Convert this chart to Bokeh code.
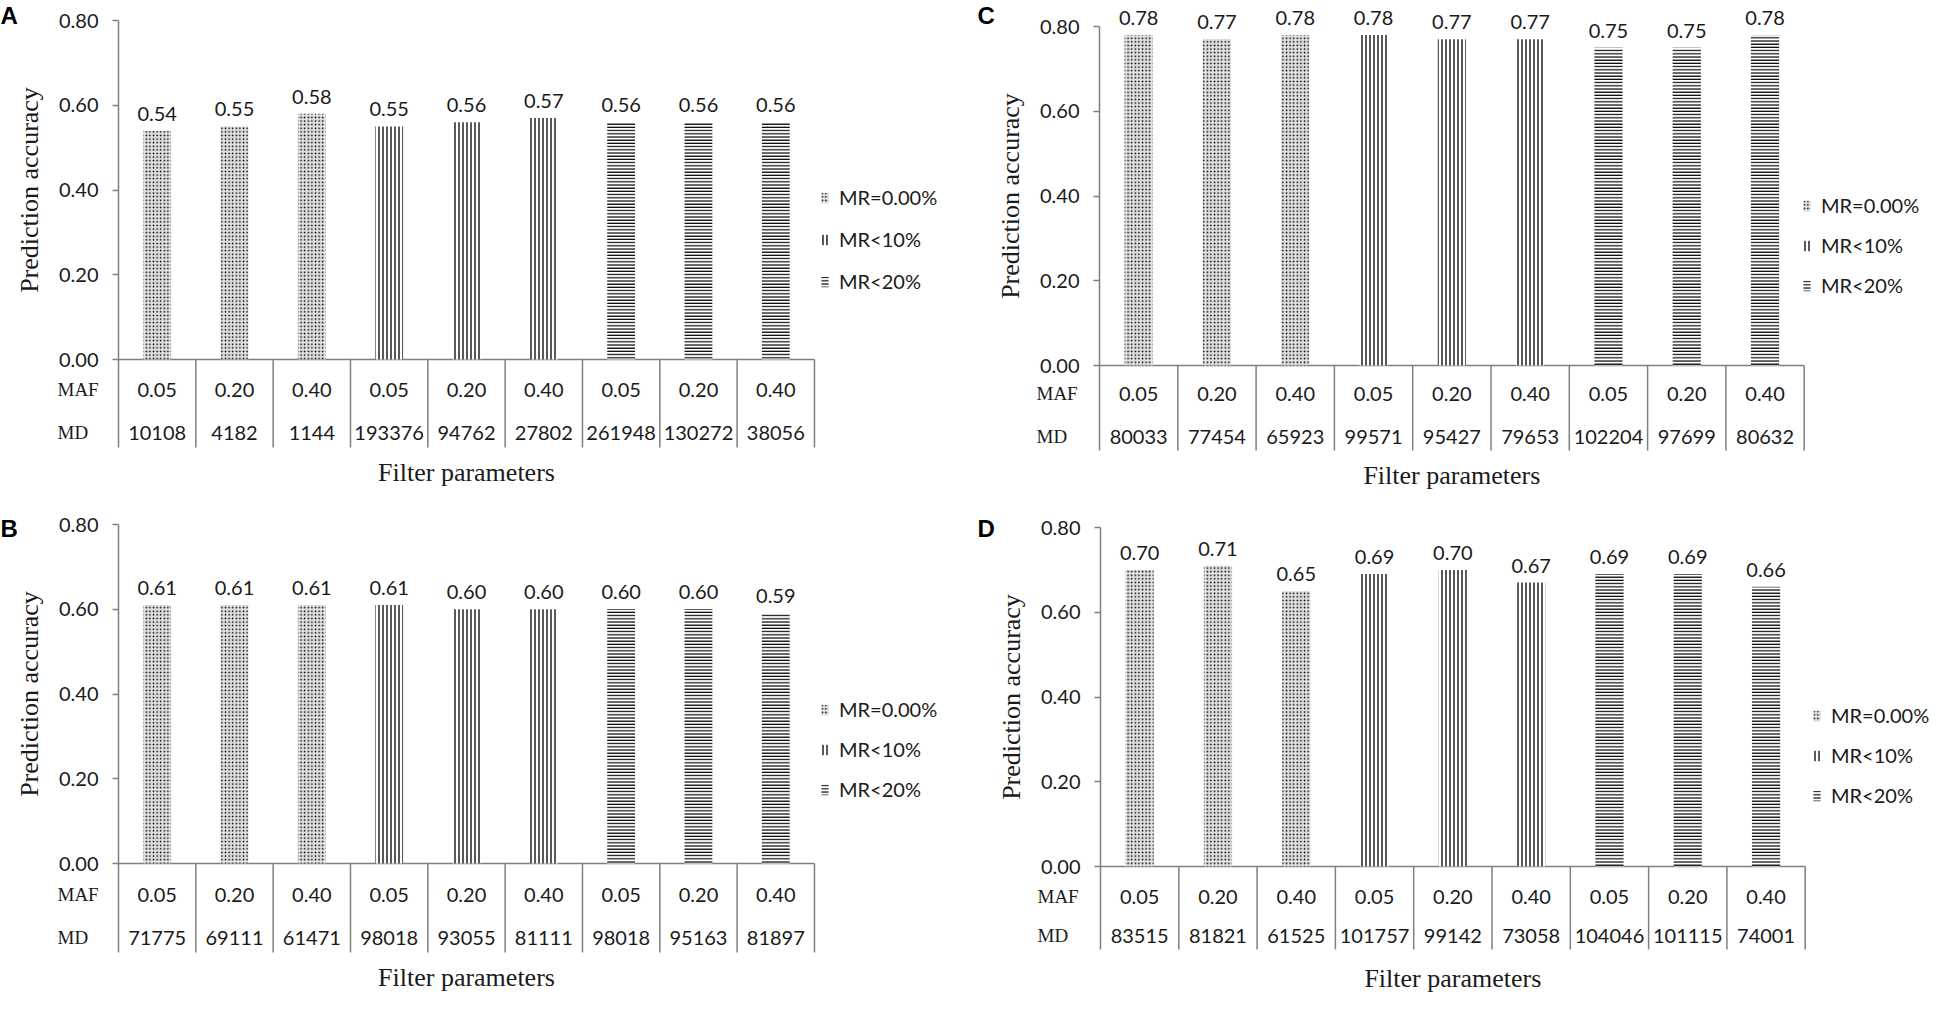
import numpy as np
from bokeh.plotting import figure
from bokeh.models import (ColumnDataSource, Range1d, LinearAxis, FixedTicker,
                          NumeralTickFormatter, Legend, LegendItem, Label)
from bokeh.layouts import gridplot
from bokeh.embed import file_html
from bokeh.resources import INLINE
from bokeh.core.properties import value

# ---------------- data ----------------
MR_GROUPS = ["MR=0.00%", "MR<10%", "MR<20%"]
GROUP_OF_BAR = [0, 0, 0, 1, 1, 1, 2, 2, 2]
MAF = ["0.05", "0.20", "0.40", "0.05", "0.20", "0.40", "0.05", "0.20", "0.40"]
Y_TICKS = [0.0, 0.2, 0.4, 0.6, 0.8]

ACC_A = [0.54, 0.55, 0.58, 0.55, 0.56, 0.57, 0.56, 0.56, 0.56]
MD_A = [10108, 4182, 1144, 193376, 94762, 27802, 261948, 130272, 38056]

ACC_B = [0.61, 0.61, 0.61, 0.61, 0.60, 0.60, 0.60, 0.60, 0.59]
MD_B = [71775, 69111, 61471, 98018, 93055, 81111, 98018, 95163, 81897]

ACC_C = [0.78, 0.77, 0.78, 0.78, 0.77, 0.77, 0.75, 0.75, 0.78]
MD_C = [80033, 77454, 65923, 99571, 95427, 79653, 102204, 97699, 80632]

ACC_D = [0.70, 0.71, 0.65, 0.69, 0.70, 0.67, 0.69, 0.69, 0.66]
MD_D = [83515, 81821, 61525, 101757, 99142, 73058, 104046, 101115, 74001]

# ---------------- style / layout ----------------
W, H = 971, 501
SANS = "Lato"
SERIF = "Liberation Serif"
TXT = "#1a1a1a"
GRAY = "#7f7f7f"
FILLS = ["#e4e4e4", "white", "white"]
HATCH = [
    dict(hatch_pattern=".", hatch_scale=3.6, hatch_weight=2.2),
    dict(hatch_pattern="|", hatch_scale=4, hatch_weight=1.3),
    dict(hatch_pattern="-", hatch_scale=3.2, hatch_weight=1.2),
]

GEOM = {
    "A": dict(axis=118, catw=77.33, y80=20, y0=359, maf=389, md=432, sepbot=447, title=472,
              leg_x=820, leg_rows=(197, 238, 280), letter=(0, 1), rowlab=57),
    "B": dict(axis=118, catw=77.33, y80=23, y0=362, maf=393, md=436, sepbot=451, title=476,
              leg_x=820, leg_rows=(208, 248, 288), letter=(0, 13), rowlab=57),
    "C": dict(axis=128, catw=78.3, y80=26, y0=365, maf=393, md=436, sepbot=450, title=475,
              leg_x=831, leg_rows=(205, 245, 285), letter=(6, 1), rowlab=65),
    "D": dict(axis=129, catw=78.3, y80=26, y0=365, maf=395, md=434, sepbot=448, title=477,
              leg_x=841, leg_rows=(214, 253, 293), letter=(6, 13), rowlab=66),
}


def make_panel(letter, acc, md):
    g = GEOM[letter]
    n = len(acc)
    s = (g["y0"] - g["y80"]) / 0.8  # px per unit

    def xd(cx):
        return (cx - g["axis"]) / g["catw"]

    def yd(cy):
        return (g["y0"] - cy) / s

    p = figure(width=W, height=H, output_backend="svg", toolbar_location=None,
               x_range=Range1d(xd(0), xd(W)), y_range=Range1d(yd(H), yd(0)),
               x_axis_type=None, y_axis_type=None, min_border=0,
               outline_line_color=None, background_fill_color="white")
    p.grid.visible = False

    xc = np.arange(n) + 0.5

    # y axis
    yaxis = LinearAxis(fixed_location=0, bounds=(0, 0.8),
                       ticker=FixedTicker(ticks=Y_TICKS, minor_ticks=[]),
                       formatter=NumeralTickFormatter(format="0.00"),
                       axis_label="Prediction accuracy")
    yaxis.axis_line_color = GRAY
    yaxis.axis_line_width = 1.5
    yaxis.major_tick_line_color = GRAY
    yaxis.major_tick_line_width = 1.5
    yaxis.major_tick_out = 6
    yaxis.major_tick_in = 0
    yaxis.minor_tick_out = 0
    yaxis.major_label_standoff = 14
    yaxis.major_label_text_font = SANS
    yaxis.major_label_text_font_size = "20px"
    yaxis.major_label_text_color = TXT
    yaxis.axis_label_text_font = SERIF
    yaxis.axis_label_text_font_style = "normal"
    yaxis.axis_label_text_font_size = "26px"
    yaxis.axis_label_text_color = TXT
    yaxis.axis_label_standoff = 12
    p.add_layout(yaxis, "left")

    # baseline and table separators
    p.segment(x0=[0], y0=[0], x1=[n], y1=[0], line_color=GRAY, line_width=1.5)
    bounds = np.arange(n + 1)
    p.segment(x0=bounds, y0=np.zeros(n + 1), x1=bounds, y1=np.full(n + 1, yd(g["sepbot"])),
              line_color=GRAY, line_width=1.5)

    # bars
    renderers = []
    for k, grp in enumerate(MR_GROUPS):
        idx = [i for i in range(n) if GROUP_OF_BAR[i] == k]
        src = ColumnDataSource(dict(x=[xc[i] for i in idx], top=[acc[i] for i in idx]))
        r = p.vbar(x="x", top="top", bottom=0, width=0.36, source=src,
                   fill_color=FILLS[k], line_color=None, hatch_color="black", **HATCH[k])
        renderers.append(r)

    # value labels
    p.text(x=xc, y=acc, text=[f"{v:.2f}" for v in acc], y_offset=-10,
           text_align="center", text_baseline="bottom",
           text_font=value(SANS), text_font_size="20px", text_color=TXT)

    # table rows
    p.text(x=xc, y=np.full(n, yd(g["maf"])), text=MAF, text_align="center",
           text_baseline="middle", text_font=value(SANS), text_font_size="20px", text_color=TXT)
    p.text(x=xc, y=np.full(n, yd(g["md"])), text=[str(v) for v in md], text_align="center",
           text_baseline="middle", text_font=value(SANS), text_font_size="20px", text_color=TXT)
    p.text(x=[xd(g["rowlab"])] * 2, y=[yd(g["maf"]), yd(g["md"])], text=["MAF", "MD"],
           text_align="left", text_baseline="middle", text_font=value(SERIF),
           text_font_size="19px", text_color=TXT)

    p.add_layout(Label(x=n / 2, y=yd(g["title"]), text="Filter parameters",
                       text_align="center", text_baseline="middle", text_font=SERIF,
                       text_font_size="26px", text_color=TXT))

    lx, ly = g["letter"]
    p.add_layout(Label(x=xd(lx), y=yd(ly), text=letter, text_align="left",
                       text_baseline="top", text_font="Liberation Sans",
                       text_font_style="bold", text_font_size="24px", text_color="black"))

    # legend
    r1, r2, r3 = g["leg_rows"]
    row_h = 24
    pitch = (r3 - r1) / 2
    spacing = int(round(pitch - row_h))
    top = r1 - row_h / 2
    bottom = top + 3 * row_h + 2 * spacing
    leg = Legend(items=[LegendItem(label=MR_GROUPS[k], renderers=[renderers[k]]) for k in range(3)],
                 location=(g["leg_x"], H - bottom), orientation="vertical",
                 glyph_width=9, glyph_height=13, label_standoff=10, spacing=spacing,
                 padding=0, margin=0, label_height=row_h,
                 border_line_color=None, background_fill_alpha=0,
                 label_text_font=SANS, label_text_font_size="20px", label_text_color=TXT)
    p.add_layout(leg)
    return p


pA = make_panel("A", ACC_A, MD_A)
pB = make_panel("B", ACC_B, MD_B)
pC = make_panel("C", ACC_C, MD_C)
pD = make_panel("D", ACC_D, MD_D)

grid = gridplot([[pA, pC], [pB, pD]], toolbar_location=None)

with open("out.html", "w") as f:
    f.write(file_html(grid, INLINE))
